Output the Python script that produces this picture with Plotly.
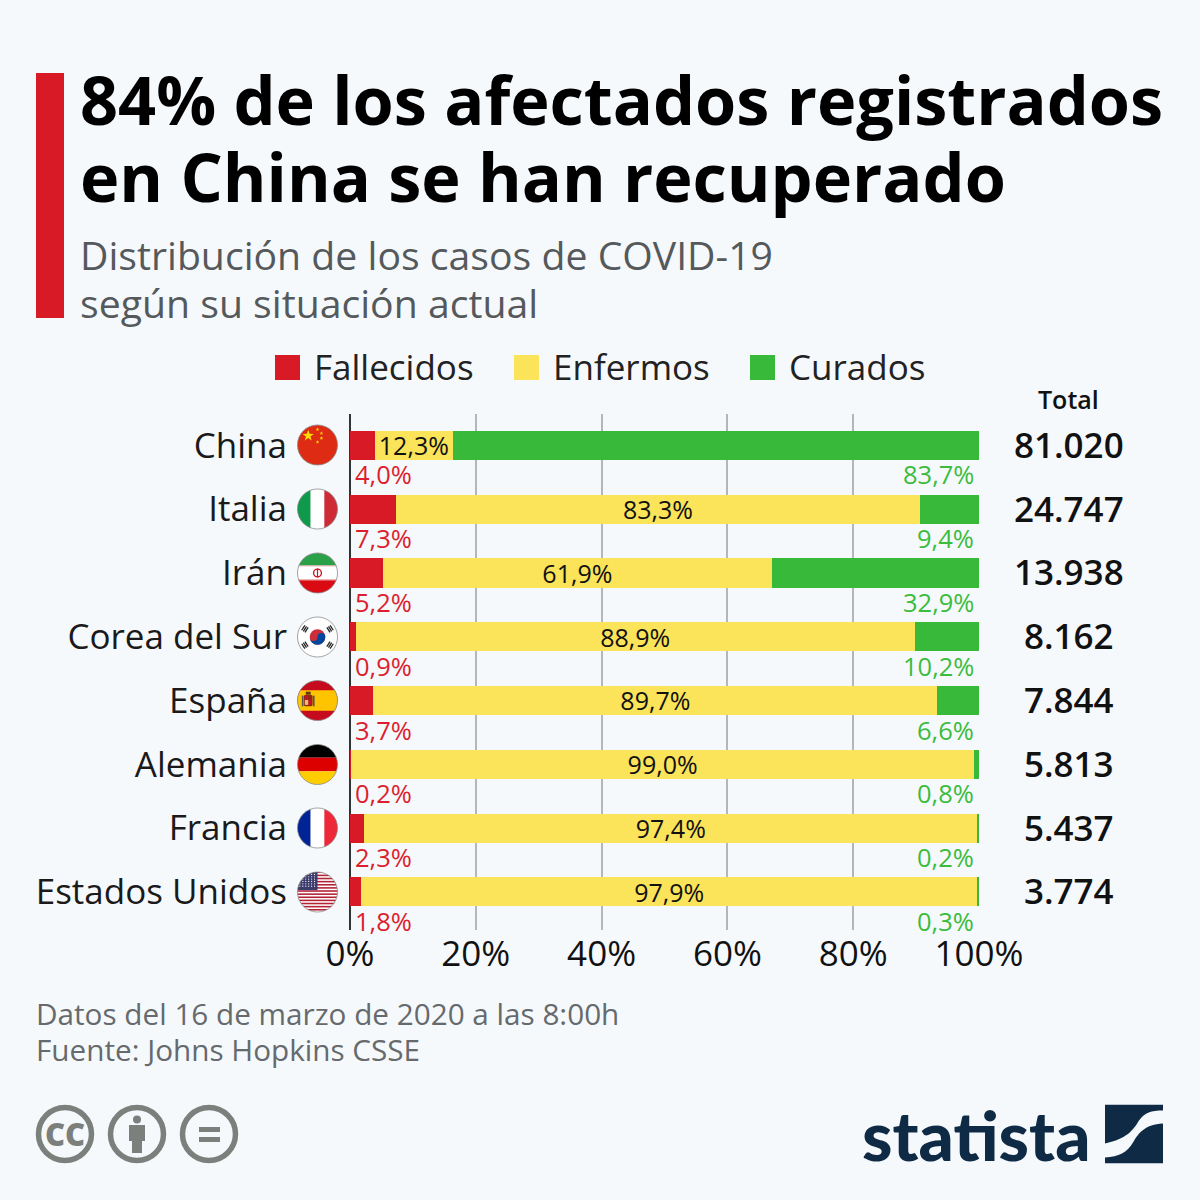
import base64
import math
import plotly.graph_objects as go

countries = ["China", "Italia", "Irán", "Corea del Sur", "España", "Alemania", "Francia", "Estados Unidos"]
fallecidos = [4.0, 7.3, 5.2, 0.9, 3.7, 0.2, 2.3, 1.8]
enfermos = [12.3, 83.3, 61.9, 88.9, 89.7, 99.0, 97.4, 97.9]
curados = [83.7, 9.4, 32.9, 10.2, 6.6, 0.8, 0.2, 0.3]
totales = ["81.020", "24.747", "13.938", "8.162", "7.844", "5.813", "5.437", "3.774"]
x_ticks = [0, 20, 40, 60, 80, 100]
x_tick_labels = ["0%", "20%", "40%", "60%", "80%", "100%"]

RED, YEL, GRN = "#d71a26", "#fbe35a", "#39b93a"
RED_T, GRN_T = "#dc1f2e", "#3cbc3c"
BG = "#f5f9fc"
FONT = "Open Sans"
W = 1200.0

def pct(v):
    return f"{v:.1f}".replace(".", ",") + "%"

fig = go.Figure()
for name, vals, col in [("Fallecidos", fallecidos, RED), ("Enfermos", enfermos, YEL), ("Curados", curados, GRN)]:
    fig.add_bar(
        y=countries, x=vals, name=name, orientation="h", marker=dict(color=col, line=dict(width=0)),
        text=[pct(v) for v in vals] if name == "Enfermos" else None,
        textposition="inside" if name == "Enfermos" else None,
        insidetextanchor="middle", textangle=0, constraintext="none",
        textfont=dict(family=FONT, size=25, color="#111"),
        showlegend=False, hoverinfo="skip",
    )

ann = []
def text(px, py, s, size, color="#111", anchor="left", weight=400, family=FONT):
    ann.append(dict(x=px / W, y=1 - py / W, xref="paper", yref="paper", text=s, showarrow=False,
                    xanchor=anchor, yanchor="middle", align=anchor, borderpad=0,
                    font=dict(family=family, size=size, color=color, weight=weight)))

text(79, 99, "84% de los afectados registrados", 66.6, "#000", weight=700)
text(79, 177, "en China se han recuperado", 66.6, "#000", weight=700)
text(78.5, 254.5, "Distribución de los casos de COVID-19", 39.2, "#55595c")
text(78.5, 303, "según su situación actual", 39.2, "#55595c")
text(313, 366.5, "Fallecidos", 35, "#222")
text(552, 366.5, "Enfermos", 35, "#222")
text(788, 366.5, "Curados", 35, "#222")
text(1068, 399, "Total", 25, "#111", "center", 600)
text(35, 1013, "Datos del 16 de marzo de 2020 a las 8:00h", 29.7, "#666a6d")
text(35, 1049, "Fuente: Johns Hopkins CSSE", 29.7, "#666a6d")
text(65, 1134, "CC", 31, "#7b807d", "center", 800)
text(976, 1134, "statista", 69, "#0f2a44", "center", 900, "Lato")

for i, c in enumerate(countries):
    ann.append(dict(x=0, y=c, xref="x", yref="y", text=pct(fallecidos[i]), showarrow=False, xanchor="left",
                    xshift=3, yshift=-29, font=dict(family=FONT, size=25.5, color=RED_T, weight=500)))
    ann.append(dict(x=100, y=c, xref="x", yref="y", text=pct(curados[i]), showarrow=False, xanchor="right",
                    xshift=-3, yshift=-29, font=dict(family=FONT, size=25.5, color=GRN_T, weight=500)))
    ann.append(dict(x=1068 / W, y=c, xref="paper", yref="y", text=totales[i], showarrow=False, xanchor="center",
                    xshift=1, yshift=1, font=dict(family=FONT, size=35, color="#111", weight=600)))

shapes = []
def rect(x0, y0, x1, y1, col):
    shapes.append(dict(type="rect", xref="paper", yref="paper", x0=x0 / W, x1=x1 / W, y0=1 - y0 / W, y1=1 - y1 / W,
                       fillcolor=col, line=dict(width=0), layer="above"))
def ring(cx, cy, r, col, lw):
    shapes.append(dict(type="circle", xref="paper", yref="paper", x0=(cx - r) / W, x1=(cx + r) / W,
                       y0=1 - (cy - r) / W, y1=1 - (cy + r) / W, fillcolor="rgba(0,0,0,0)",
                       line=dict(color=col, width=lw), layer="above"))

rect(36, 73, 64, 318, RED)
rect(275, 355, 300, 380, RED)
rect(514, 355, 539, 380, YEL)
rect(750, 355, 775, 380, GRN)
GREY = "#7b807d"
for cx in (65, 137, 209):
    ring(cx, 1134, 26.5, GREY, 5.5)
shapes.append(dict(type="circle", xref="paper", yref="paper", x0=133 / W, x1=141 / W, y0=1 - 1115.5 / W, y1=1 - 1123.5 / W,
                   fillcolor=GREY, line=dict(width=0), layer="above"))
rect(129, 1125, 145, 1141, GREY)
rect(132, 1141, 142, 1153, GREY)
rect(199, 1127, 220, 1132, GREY)
rect(199, 1137, 220, 1142, GREY)

def star(cx, cy, r, col):
    pts = []
    for k in range(10):
        a = -math.pi / 2 + k * math.pi / 5
        rr = r if k % 2 == 0 else r * 0.4
        pts.append(f"{cx + rr * math.cos(a):.2f},{cy + rr * math.sin(a):.2f}")
    return f'<polygon points="{" ".join(pts)}" fill="{col}"/>'

usa = "".join(f'<rect x="0" y="{i * 3.2:.1f}" width="42" height="1.6" fill="#b22234"/>' for i in range(14))
usa_stars = "".join(f'<circle cx="{3 + c * 3}" cy="{3 + r * 2.4}" r="0.6" fill="#fff"/>' for r in range(6) for c in range(6))
kor_bars = "".join(f'<g transform="rotate({a} 21 21)"><rect x="18" y="3" width="6" height="1.3" fill="#222"/><rect x="18" y="5" width="6" height="1.3" fill="#222"/><rect x="18" y="7" width="6" height="1.3" fill="#222"/></g>' for a in (-57, 57, 123, 237))
spain_arms = ('<rect x="7" y="15" width="9" height="12" rx="2" fill="#8a2b14"/><rect x="8" y="16" width="3.5" height="4.5" fill="#c8102e"/>'
              '<rect x="11.5" y="20.5" width="3.5" height="5" fill="#c8102e"/><rect x="8" y="20.5" width="3.5" height="5" fill="#e8c070"/>'
              '<rect x="9" y="12" width="5" height="3" fill="#5a3a10"/><rect x="5" y="16" width="1.6" height="11" fill="#555"/><rect x="16.4" y="16" width="1.6" height="11" fill="#555"/>')

flags = [
    '<rect width="42" height="42" fill="#de2c14"/>' + star(11.5, 11.5, 6, "#ffde00") + star(21, 5, 2, "#ffde00") + star(25, 9, 2, "#ffde00") + star(25, 14, 2, "#ffde00") + star(21, 18, 2, "#ffde00"),
    '<rect width="14" height="42" fill="#0f9a4b"/><rect x="14" width="14" height="42" fill="#fff"/><rect x="28" width="14" height="42" fill="#ce2b37"/>',
    '<rect width="42" height="14" fill="#2aa048"/><rect y="14" width="42" height="14" fill="#fff"/><rect y="28" width="42" height="14" fill="#da0a12"/><rect y="13" width="42" height="1.2" fill="#e8b8b8"/><rect y="27.5" width="42" height="1.2" fill="#e8a0a0"/><circle cx="21" cy="21" r="4" fill="none" stroke="#d01020" stroke-width="1.4"/><rect x="20.4" y="16.5" width="1.2" height="9" fill="#d01020"/>',
    '<rect width="42" height="42" fill="#fff"/>' + kor_bars + '<circle cx="21" cy="21" r="8" fill="#cd2e3a"/><path d="M13,21 a8,8 0 0 0 16,0 a4,4 0 0 0 -8,0 a4,4 0 0 1 -8,0Z" fill="#0047a0"/>',
    '<rect width="42" height="42" fill="#c60b1e"/><rect y="10.5" width="42" height="21" fill="#ffc400"/>' + spain_arms,
    '<rect width="42" height="14" fill="#000"/><rect y="14" width="42" height="14" fill="#dd0000"/><rect y="28" width="42" height="14" fill="#ffce00"/>',
    '<rect width="14" height="42" fill="#002395"/><rect x="14" width="14" height="42" fill="#fff"/><rect x="28" width="14" height="42" fill="#ed2939"/>',
    '<rect width="42" height="42" fill="#fff"/>' + usa + '<rect width="21" height="19" fill="#3c3b6e"/>' + usa_stars,
]

def uri(svg):
    return "data:image/svg+xml;base64," + base64.b64encode(svg.encode()).decode()

def flag_svg(body):
    return (f'<svg xmlns="http://www.w3.org/2000/svg" width="84" height="84" viewBox="-0.5 -0.5 43 43">'
            f'<defs><clipPath id="c"><circle cx="21" cy="21" r="20.5"/></clipPath></defs>'
            f'<g clip-path="url(#c)">{body}</g><circle cx="21" cy="21" r="20.5" fill="none" stroke="#8a8a8a" stroke-width="0.8"/></svg>')

images = []
flag_cy = [445, 509, 573, 637, 700.5, 764.5, 828, 892]
for body, cy in zip(flags, flag_cy):
    images.append(dict(source=uri(flag_svg(body)), xref="paper", yref="paper", x=296.5 / W, y=1 - (cy - 21) / W,
                       sizex=42 / W, sizey=42 / W, xanchor="left", yanchor="top", sizing="stretch", layer="above"))

logo = ('<svg xmlns="http://www.w3.org/2000/svg" width="116" height="118" viewBox="0 0 58 59">'
        '<path fill="#0f2a44" d="M0,0H58V6C46,6 40,8 34,16C28,26 22,34 0,39Z"/>'
        '<path fill="#0f2a44" d="M58,19V59H0V53C14,52 22,48 28,38C34,28 40,20 58,19Z"/></svg>')
images.append(dict(source=uri(logo), xref="paper", yref="paper", x=1105 / W, y=1 - 1104.5 / W, sizex=58 / W, sizey=59 / W,
                   xanchor="left", yanchor="top", sizing="stretch", layer="above"))

fig.update_layout(
    width=1200, height=1200, margin=dict(l=0, r=0, t=0, b=0, autoexpand=False), autosize=False,
    paper_bgcolor=BG, plot_bgcolor=BG, barmode="stack", bargap=0.545,
    annotations=ann, shapes=shapes, images=images, font=dict(family=FONT),
    xaxis=dict(domain=[350 / W, 979 / W], range=[0, 100], tickvals=x_ticks, ticktext=x_tick_labels, automargin=False,
               showgrid=True, gridcolor="#b4b7b9", gridwidth=1.5, zeroline=True, zerolinecolor="#333", zerolinewidth=2,
               ticks="", tickfont=dict(family=FONT, size=35, color="#111"), layer="above traces"),
    yaxis=dict(domain=[1 - 930 / W, 1 - 414 / W], autorange=False, range=[7.6, -0.494], type="category", automargin=False,
               categoryorder="array", categoryarray=countries, showline=False,
               showgrid=False, ticks="", ticklabelstandoff=62, tickfont=dict(family=FONT, size=35, color="#1a1a1a")),
)

fig.write_html("out.html", config=dict(displayModeBar=False),
               post_script="document.body.style.margin='0';document.body.style.background='%s';" % BG)
